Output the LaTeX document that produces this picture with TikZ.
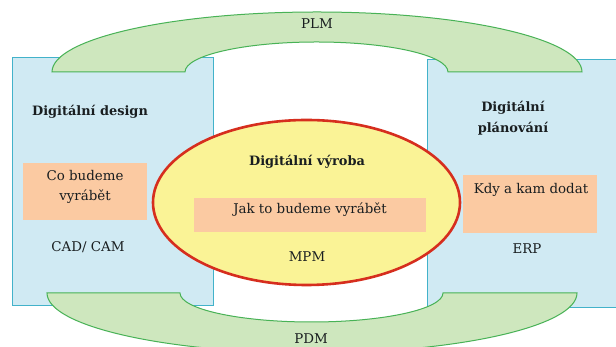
\documentclass[tikz,border=0pt]{standalone}
\usepackage{fontspec}
\setmainfont{DejaVu Serif}
\newfontfamily\diagramfont{DejaVu Serif}
\usetikzlibrary{shapes.geometric}
\definecolor{stageblue}{RGB}{208,234,243}
\definecolor{stageedge}{RGB}{66,178,202}
\definecolor{loopgreen}{RGB}{206,231,190}
\definecolor{loopedge}{RGB}{72,178,86}
\definecolor{taskorange}{RGB}{251,202,162}
\definecolor{makeyellow}{RGB}{250,243,150}
\definecolor{makered}{RGB}{214,46,30}
\definecolor{labelgrey}{RGB}{25,30,32}

\begin{document}
\begin{tikzpicture}[
    x=1pt,
    y=1pt,
    stage box/.style={
      rectangle,
      draw=stageedge,
      fill=stageblue,
      line width=1pt,
      inner sep=0pt
    },
    loop band/.style={
      draw=loopedge,
      fill=loopgreen,
      line width=1pt
    },
    task box/.style={
      rectangle,
      fill=taskorange,
      inner sep=0pt
    },
    make ellipse/.style={
      ellipse,
      draw=makered,
      fill=makeyellow,
      line width=2.6pt,
      inner sep=0pt
    },
    label text/.style={
      text=labelgrey,
      font=\diagramfont\fontsize{13.4}{20.5}\selectfont,
      align=center,
      inner sep=0pt
    },
    title text/.style={
      label text,
      font=\diagramfont\fontsize{12.9}{21}\selectfont\bfseries
    }
]

\useasboundingbox[fill=white] (0,0) rectangle (616,347);

% Design and planning columns.
\node[stage box, minimum width=201pt, minimum height=248pt]
  (design) at (112.5,165) {};
\node[stage box, minimum width=190pt, minimum height=248pt]
  (planning) at (522,163) {};

% Lifecycle band over the top.
\draw[loop band]
  (52,275) arc[start angle=180,end angle=0,x radius=265,y radius=60]
  -- (448,275) arc[start angle=0,end angle=180,x radius=131.5,y radius=30]
  -- cycle;
\node[label text] (plm) at (317,323) {PLM};

% Data band underneath.
\draw[loop band]
  (47,54) arc[start angle=180,end angle=360,x radius=265,y radius=60]
  -- (443,54) arc[start angle=360,end angle=180,x radius=131.5,y radius=29]
  -- cycle;
\node[label text] (pdm) at (311,8.5) {PDM};

% Production in the middle.
\node[make ellipse, minimum width=307pt, minimum height=165pt]
  (production) at (306.5,144.5) {};

% Questions answered by each stage.
\node[task box, minimum width=124pt, minimum height=57pt]
  (what) at (85,155.5) {};
\node[task box, minimum width=232pt, minimum height=34pt]
  (how) at (310,132) {};
\node[task box, minimum width=134pt, minimum height=58pt]
  (when) at (530,143) {};

\node[title text] (designtitle) at (90,235) {Digitální design};
\node[title text] (planningtitle) at (513,229) {Digitální\\plánování};
\node[title text] (productiontitle) at (307,185) {Digitální výroba};

\node[label text] (whattext) at (85,160) {Co budeme\\vyrábět};
\node[label text] (howtext) at (310,137) {Jak to budeme vyrábět};
\node[label text] (whentext) at (531,157) {Kdy a kam dodat};

\node[label text] (cadcam) at (88,100) {CAD/ CAM};
\node[label text] (mpm) at (307,90) {MPM};
\node[label text] (erp) at (527,98) {ERP};

\end{tikzpicture}
\end{document}
